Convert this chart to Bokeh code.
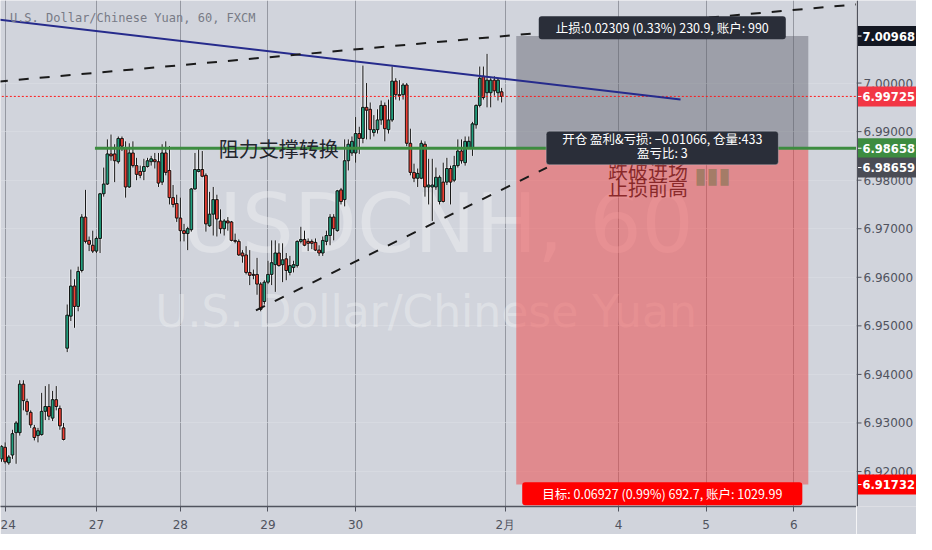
from bokeh.plotting import figure
from bokeh.layouts import row
from bokeh.models import Range1d, FixedTicker, Label, ColumnDataSource, Span, BoxAnnotation
from bokeh.core.properties import value
from bokeh.embed import file_html
from bokeh.resources import INLINE

# ---------------- data (hourly bars, USD/CNH, FXCM) ----------------
opens = [6.9226, 6.9250, 6.9218, 6.9234, 6.9280, 6.9280, 6.9380, 6.9344, 6.9322, 6.9290,
         6.9274, 6.9276, 6.9324, 6.9334, 6.9310, 6.9348, 6.9330, 6.9290, 6.9454, 6.9520,
         6.9582, 6.9540, 6.9614, 6.9724, 6.9676, 6.9666, 6.9654, 6.9680, 6.9772, 6.9792,
         6.9854, 6.9854, 6.9838, 6.9886, 6.9866, 6.9786, 6.9856, 6.9830, 6.9818, 6.9818,
         6.9828, 6.9838, 6.9842, 6.9838, 6.9796, 6.9856, 6.9820, 6.9764, 6.9752, 6.9722,
         6.9696, 6.9690, 6.9698, 6.9782, 6.9818, 6.9822, 6.9810, 6.9706, 6.9730, 6.9760,
         6.9716, 6.9700, 6.9716, 6.9714, 6.9676, 6.9674, 6.9650, 6.9646, 6.9610, 6.9606,
         6.9606, 6.9586, 6.9550, 6.9590, 6.9606, 6.9626, 6.9650, 6.9626, 6.9638, 6.9610,
         6.9620, 6.9624, 6.9674, 6.9678, 6.9674, 6.9674, 6.9672, 6.9656, 6.9650, 6.9674,
         6.9686, 6.9724, 6.9696, 6.9780, 6.9760, 6.9840, 6.9856, 6.9856, 6.9896, 6.9886,
         6.9950, 6.9946, 6.9898, 6.9904, 6.9924, 6.9954, 6.9904, 6.9924, 7.0004, 6.9976,
         6.9976, 6.9996, 6.9876, 6.9816, 6.9804, 6.9804, 6.9874, 6.9786, 6.9786, 6.9786,
         6.9756, 6.9796, 6.9796, 6.9824, 6.9800, 6.9830, 6.9860, 6.9836, 6.9866, 6.9866,
         6.9914, 6.9954, 7.0014, 6.9980, 6.9980, 7.0006, 6.9980, 6.9982]
highs = [6.9254, 6.9260, 6.9234, 6.9286, 6.9304, 6.9388, 6.9388, 6.9350, 6.9326, 6.9296,
         6.9290, 6.9362, 6.9376, 6.9380, 6.9366, 6.9376, 6.9336, 6.9300, 6.9544, 6.9616,
         6.9596, 6.9622, 6.9730, 6.9780, 6.9684, 6.9696, 6.9684, 6.9774, 6.9826, 6.9884,
         6.9894, 6.9874, 6.9890, 6.9890, 6.9880, 6.9876, 6.9880, 6.9846, 6.9830, 6.9844,
         6.9846, 6.9850, 6.9856, 6.9856, 6.9874, 6.9880, 6.9870, 6.9790, 6.9770, 6.9764,
         6.9710, 6.9704, 6.9784, 6.9856, 6.9864, 6.9860, 6.9814, 6.9776, 6.9786, 6.9770,
         6.9740, 6.9720, 6.9724, 6.9716, 6.9690, 6.9678, 6.9656, 6.9664, 6.9656, 6.9616,
         6.9640, 6.9590, 6.9594, 6.9634, 6.9676, 6.9676, 6.9670, 6.9670, 6.9650, 6.9644,
         6.9634, 6.9676, 6.9704, 6.9696, 6.9680, 6.9678, 6.9680, 6.9666, 6.9684, 6.9696,
         6.9730, 6.9730, 6.9780, 6.9784, 6.9884, 6.9884, 6.9890, 6.9930, 6.9910, 7.0036,
         7.0000, 6.9960, 6.9934, 6.9946, 6.9964, 6.9960, 6.9966, 7.0034, 7.0010, 7.0006,
         7.0000, 7.0000, 6.9906, 6.9834, 6.9824, 6.9882, 6.9880, 6.9844, 6.9844, 6.9826,
         6.9810, 6.9836, 6.9846, 6.9830, 6.9850, 6.9884, 6.9884, 6.9890, 6.9890, 6.9920,
         6.9956, 7.0034, 7.0034, 7.0060, 7.0010, 7.0014, 7.0010, 6.9990]
lows = [6.9220, 6.9216, 6.9214, 6.9226, 6.9216, 6.9274, 6.9326, 6.9316, 6.9290, 6.9264,
        6.9260, 6.9274, 6.9306, 6.9306, 6.9304, 6.9326, 6.9286, 6.9264, 6.9446, 6.9510,
        6.9496, 6.9530, 6.9610, 6.9670, 6.9654, 6.9650, 6.9650, 6.9650, 6.9766, 6.9790,
        6.9840, 6.9796, 6.9834, 6.9860, 6.9764, 6.9784, 6.9826, 6.9800, 6.9804, 6.9800,
        6.9826, 6.9830, 6.9824, 6.9786, 6.9790, 6.9810, 6.9750, 6.9744, 6.9714, 6.9674,
        6.9674, 6.9656, 6.9694, 6.9780, 6.9816, 6.9806, 6.9694, 6.9704, 6.9686, 6.9684,
        6.9690, 6.9686, 6.9696, 6.9674, 6.9670, 6.9644, 6.9630, 6.9606, 6.9584, 6.9596,
        6.9564, 6.9530, 6.9544, 6.9586, 6.9584, 6.9570, 6.9622, 6.9590, 6.9594, 6.9604,
        6.9610, 6.9620, 6.9670, 6.9664, 6.9654, 6.9658, 6.9654, 6.9644, 6.9644, 6.9666,
        6.9666, 6.9676, 6.9694, 6.9750, 6.9746, 6.9820, 6.9850, 6.9836, 6.9854, 6.9876,
        6.9884, 6.9884, 6.9890, 6.9896, 6.9914, 6.9880, 6.9896, 6.9920, 6.9966, 6.9964,
        6.9966, 6.9870, 6.9810, 6.9796, 6.9786, 6.9802, 6.9766, 6.9750, 6.9716, 6.9780,
        6.9750, 6.9754, 6.9790, 6.9750, 6.9796, 6.9826, 6.9834, 6.9830, 6.9864, 6.9850,
        6.9906, 6.9950, 6.9966, 6.9950, 6.9950, 6.9974, 6.9964, 6.9960]
closes = [6.9252, 6.9220, 6.9230, 6.9278, 6.9300, 6.9380, 6.9346, 6.9324, 6.9296, 6.9270,
          6.9284, 6.9324, 6.9334, 6.9314, 6.9348, 6.9334, 6.9294, 6.9266, 6.9522, 6.9582,
          6.9540, 6.9612, 6.9724, 6.9674, 6.9668, 6.9654, 6.9680, 6.9772, 6.9792, 6.9854,
          6.9850, 6.9840, 6.9886, 6.9870, 6.9786, 6.9856, 6.9830, 6.9812, 6.9810, 6.9828,
          6.9840, 6.9844, 6.9838, 6.9794, 6.9856, 6.9816, 6.9764, 6.9750, 6.9722, 6.9696,
          6.9690, 6.9700, 6.9782, 6.9822, 6.9822, 6.9808, 6.9710, 6.9730, 6.9760, 6.9720,
          6.9700, 6.9716, 6.9712, 6.9676, 6.9674, 6.9646, 6.9644, 6.9610, 6.9604, 6.9604,
          6.9586, 6.9534, 6.9590, 6.9606, 6.9630, 6.9650, 6.9624, 6.9636, 6.9614, 6.9624,
          6.9626, 6.9674, 6.9678, 6.9666, 6.9670, 6.9670, 6.9656, 6.9650, 6.9676, 6.9686,
          6.9724, 6.9700, 6.9778, 6.9756, 6.9840, 6.9874, 6.9880, 6.9896, 6.9886, 6.9950,
          6.9944, 6.9904, 6.9904, 6.9924, 6.9954, 6.9906, 6.9924, 7.0004, 6.9976, 6.9974,
          6.9996, 6.9876, 6.9816, 6.9804, 6.9814, 6.9876, 6.9786, 6.9790, 6.9790, 6.9806,
          6.9806, 6.9756, 6.9824, 6.9796, 6.9830, 6.9860, 6.9840, 6.9880, 6.9880, 6.9916,
          6.9954, 7.0010, 6.9970, 7.0006, 7.0006, 6.9984, 7.0006, 6.99725]
bars = list(range(len(closes)))

x_tick_pos = [1, 26, 49, 73, 97, 138, 169, 193, 217]
x_tick_labels = ["24", "27", "28", "29", "30", "2月", "4", "5", "6"]
y_ticks = [6.92, 6.93, 6.94, 6.95, 6.96, 6.97, 6.98, 6.99, 7.00]

last_price = 6.99725
entry_price = 6.98658
stop_price = 7.00968
target_price = 6.91732
line_label_price = 6.98659
position_span = [141.0, 221.0]

blue_trend_x = [-1, 186]
blue_trend_y = [7.0131, 6.9966]
upper_dash_x = [-1, 240]
upper_dash_y = [7.0003, 7.0166]
lower_dash_x = [69.7, 149.4]
lower_dash_y = [6.9532, 6.9826]
support_x = [25.6, 240]

# price-scale badges: (shown value, level, colour)
badge_text = ["%.5f" % v for v in [stop_price, last_price, entry_price, line_label_price, target_price]]
badge_level = [stop_price, last_price, entry_price, 6.9826, target_price]
badge_color = ["#131722", "#f23645", "#3d8c40", "#4a4c55", "#ff0000"]

BG = "#d1d4dc"
UP = "#22a07f"
DOWN = "#ef3f34"
AXIS = "#50535e"
CJK = "Noto Sans CJK SC"
Y_RANGE = Range1d(6.9128, 7.017)

p = figure(width=856, height=534, output_backend="svg", toolbar_location=None,
           x_range=Range1d(-0.27, 234.2), y_range=Y_RANGE, y_axis_location=None,
           background_fill_color=BG, border_fill_color=BG,
           min_border_left=0, min_border_top=0, min_border_right=0, min_border_bottom=26)
p.outline_line_color = None

p.xaxis.ticker = FixedTicker(ticks=x_tick_pos)
p.xaxis.major_label_overrides = {k: v for k, v in zip(x_tick_pos, x_tick_labels)}
p.xaxis.axis_line_color = AXIS
p.xaxis.axis_line_width = 1.5
p.xaxis.major_tick_line_color = AXIS
p.xaxis.major_tick_out = 5
p.xaxis.major_tick_in = 0
p.xaxis.minor_tick_line_color = None
p.xaxis.major_label_text_color = AXIS
p.xaxis.major_label_text_font = "DejaVu Sans"
p.xaxis.major_label_text_font_size = "12px"
p.xaxis.major_label_standoff = 6
p.xgrid.ticker = FixedTicker(ticks=x_tick_pos)
p.xgrid.grid_line_color = "#9598a1"
p.xgrid.grid_line_width = 1
p.ygrid.ticker = FixedTicker(ticks=y_ticks)
p.ygrid.grid_line_color = "#dadde4"
p.ygrid.grid_line_alpha = 0.6

# watermark
p.text(x=[119.5], y=[6.971], text=["USDCNH, 60"], text_align="center", text_baseline="middle",
       text_font=value("DejaVu Sans"), text_font_size="82px", text_color="white", text_alpha=0.3)
p.text(x=[116.3], y=[6.953], text=["U.S. Dollar/Chinese Yuan"], text_align="center",
       text_baseline="middle", text_font=value("DejaVu Sans"), text_font_size="44px",
       text_color="white", text_alpha=0.3)

# position tool zones
p.quad(left=[position_span[0]], right=[position_span[1]], bottom=[entry_price], top=[stop_price],
       fill_color="#5d606b", fill_alpha=0.45, line_color=None)
p.quad(left=[position_span[0]], right=[position_span[1]], bottom=[target_price], top=[entry_price],
       fill_color="#f04040", fill_alpha=0.5, line_color=None)

# candles
tops = [max(o, c) for o, c in zip(opens, closes)]
bots = [min(o, c) for o, c in zip(opens, closes)]
cols = [UP if c >= o else DOWN for o, c in zip(opens, closes)]
src = ColumnDataSource(dict(x=bars, high=highs, low=lows, top=tops, bottom=bots, color=cols))
p.segment(x0="x", y0="high", x1="x", y1="low", source=src, line_color="white", line_width=3, line_alpha=0.45)
p.vbar(x="x", top="top", bottom="bottom", width=0.75, source=src, fill_color=None,
       line_color="white", line_width=3, line_alpha=0.45)
p.segment(x0="x", y0="high", x1="x", y1="low", source=src, line_color="#111111", line_width=1)
p.vbar(x="x", top="top", bottom="bottom", width=0.75, source=src, fill_color="color",
       line_color="#111111", line_width=1)

# drawings
p.line(x=[-1, 240], y=[last_price, last_price], line_color="#ff1a1a", line_width=1, line_dash="2 2")
p.line(x=support_x, y=[entry_price, entry_price], line_color="#3d8c40", line_width=3)
p.line(x=blue_trend_x, y=blue_trend_y, line_color="#262b8c", line_width=2)
p.line(x=upper_dash_x, y=upper_dash_y, line_color="#1a1a1a", line_width=2, line_dash="10 11")
p.line(x=lower_dash_x, y=lower_dash_y, line_color="#1a1a1a", line_width=2, line_dash="10 11")

p.text(x=[59.5], y=[entry_price], text=["阻力支撑转换"], text_baseline="middle",
       text_font=value(CJK), text_font_size="20px", text_color="#23252e")
p.text(x=[166.1, 166.1], y=[6.9820, 6.9784], text=["跌破进场", "止损前高"], text_baseline="middle",
       text_font=value(CJK), text_font_size="20px", text_color="#7a1717", text_alpha=0.85)
p.text(x=[189.8], y=[6.9810], text=["▮▮▮"], text_baseline="middle",
       text_font=value("DejaVu Sans"), text_font_size="22px", text_color="#9c7a62", text_alpha=0.9)

p.add_layout(Label(x=2.3, y=7.0134, text="U.S. Dollar/Chinese Yuan, 60, FXCM", text_baseline="middle",
                   text_font="DejaVu Sans Mono", text_font_size="12px", text_color="#787b86"))

mid = (position_span[0] + position_span[1]) / 2
p.add_layout(Label(x=mid, y=7.0114, text="止损:0.02309 (0.33%) 230.9, 账户: 990", text_align="center",
                   text_baseline="middle", text_font=CJK, text_font_size="12.5px", text_color="white",
                   background_fill_color="#2a2e39", padding=(17, 2), border_radius=3))
p.add_layout(BoxAnnotation(left=mid - 31.8, right=mid + 31.8, bottom=entry_price - 0.0034,
                           top=entry_price + 0.0035, fill_color="#2a2e39", fill_alpha=1.0,
                           line_color="#e6e8ee", line_width=1, border_radius=3))
p.add_layout(Label(x=mid, y=entry_price + 0.0019, text="开仓 盈利&亏损: \u22120.01066, 仓量:433",
                   text_align="center", text_baseline="middle", text_font=CJK, text_font_size="12.5px",
                   text_color="white"))
p.add_layout(Label(x=mid, y=entry_price - 0.0009, text="盈亏比: 3",
                   text_align="center", text_baseline="middle", text_font=CJK, text_font_size="12.5px",
                   text_color="white"))
p.add_layout(Label(x=mid, y=6.9154, text="目标: 0.06927 (0.99%) 692.7, 账户: 1029.99", text_align="center",
                   text_baseline="middle", text_font=CJK, text_font_size="12.5px", text_color="white",
                   background_fill_color="#ff0000", padding=(20, 2), border_radius=3))

# ---------------- price scale (right) ----------------
ps = figure(width=60, height=534, output_backend="svg", toolbar_location=None,
            x_range=Range1d(0, 60), y_range=Y_RANGE, x_axis_location=None, y_axis_location=None,
            background_fill_color=BG, border_fill_color=BG,
            min_border_left=0, min_border_top=0, min_border_right=0, min_border_bottom=26)
ps.outline_line_color = None
ps.grid.visible = False
ps.add_layout(Span(location=0.75, dimension="height", line_color=AXIS, line_width=1.5))
ps.segment(x0=[0] * len(y_ticks), x1=[5] * len(y_ticks), y0=y_ticks, y1=y_ticks, line_color=AXIS, line_width=1)
ps.text(x=[7] * len(y_ticks), y=y_ticks, text=["%.5f" % v for v in y_ticks], text_baseline="middle",
        text_font=value("DejaVu Sans"), text_font_size="12px", text_color=AXIS)
ps.rect(x=[31] * len(badge_level), y=badge_level, width=[59] * len(badge_level), height=20,
        height_units="screen", fill_color=badge_color, line_color=None)
ps.segment(x0=[1] * len(badge_level), x1=[5] * len(badge_level), y0=badge_level, y1=badge_level,
           line_color="white", line_width=1)
ps.text(x=[6] * len(badge_level), y=badge_level, text=badge_text, text_baseline="middle",
        text_font=value("DejaVu Sans"), text_font_size="11.5px", text_font_style="bold", text_color="white")

layout = row(p, ps)
open("out.html", "w").write(file_html(layout, INLINE))
